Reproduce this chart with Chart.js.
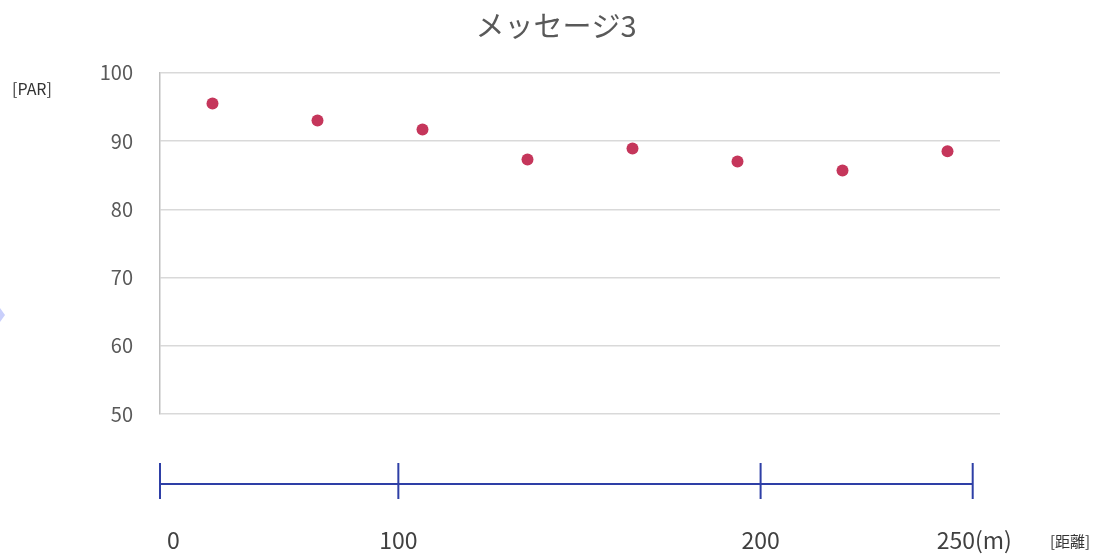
<!doctype html>
<html lang="ja">
<head>
  <meta charset="utf-8">
  <title>メッセージ3</title>
  <script src="https://cdn.jsdelivr.net/npm/chart.js@4.4.0/dist/chart.umd.min.js"></script>
  <style>
    html, body { margin: 0; padding: 0; background: #fff; }
    #wrap { width: 1112px; height: 554px; }
  </style>
</head>
<body>
  <div id="wrap"><canvas id="myChart"></canvas></div>
  <script>
    // measurement points (one per position along the course)
    const points = ['1', '2', '3', '4', '5', '6', '7', '8'];
    const parValues = [95.5, 93.0, 91.7, 87.3, 88.9, 87.0, 85.7, 88.5];

    // distance ruler under the plot
    const rulerLabels = ['0', '100', '200', '250(m)'];
    const rulerAt = [-0.5, 1.77, 5.22, 7.24]; // position in point-index units

    const yTicks = [50, 60, 70, 80, 90, 100];

    const FONT = '"Noto Sans CJK JP", "Noto Sans", sans-serif';

    const rulerPlugin = {
      id: 'ruler',
      afterDraw(chart) {
        const ctx = chart.ctx;
        const xs = chart.scales.x;
        const area = chart.chartArea;
        const lineY = area.bottom + 70;
        const px = rulerAt.map(v => xs.getPixelForValue(v));

        ctx.save();
        ctx.strokeStyle = '#2E3FA6';
        ctx.lineWidth = 2;
        ctx.beginPath();
        ctx.moveTo(px[0], lineY);
        ctx.lineTo(px[px.length - 1], lineY);
        px.forEach(x => {
          ctx.moveTo(x, lineY - 21);
          ctx.lineTo(x, lineY + 15);
        });
        ctx.stroke();

        ctx.fillStyle = '#404040';
        ctx.font = '23px ' + FONT;
        ctx.textBaseline = 'middle';
        rulerLabels.forEach((t, i) => {
          let x = px[i];
          if (i === 0) { ctx.textAlign = 'left'; x += 7; }
          else if (i === rulerLabels.length - 1) { ctx.textAlign = 'left'; x -= 36; }
          else ctx.textAlign = 'center';
          ctx.fillText(t, x, area.bottom + 126);
        });

        // axis names
        ctx.fillStyle = '#333';
        ctx.font = '16px ' + FONT;
        ctx.textAlign = 'left';
        ctx.fillText('[PAR]', 12, area.top + 16);
        ctx.font = '15px ' + FONT;
        ctx.fillText('[距離]', 1050, area.bottom + 127);

        // small selection handle at the left edge
        ctx.fillStyle = '#c9cffb';
        ctx.beginPath();
        ctx.moveTo(-5, 315);
        ctx.lineTo(0, 308);
        ctx.lineTo(5, 315);
        ctx.lineTo(0, 322);
        ctx.closePath();
        ctx.fill();
        ctx.restore();
      }
    };

    const ctx = document.getElementById('myChart').getContext('2d');
    const chart = new Chart(ctx, {
      type: 'line',
      data: {
        labels: points,
        datasets: [{
          label: 'PAR',
          data: parValues,
          showLine: false,
          pointRadius: 6,
          pointHoverRadius: 6,
          pointBackgroundColor: '#C5365B',
          pointBorderColor: '#C5365B',
          pointBorderWidth: 0
        }]
      },
      options: {
        responsive: true,
        maintainAspectRatio: false,
        animation: false,
        layout: { padding: { left: 0, right: 0, top: 0, bottom: 140 } },
        plugins: {
          legend: { display: false },
          tooltip: { enabled: false },
          title: {
            display: true,
            text: 'メッセージ3',
            color: '#595959',
            font: { family: FONT, size: 29, weight: 'normal' },
            padding: { top: 9, bottom: 29 }
          }
        },
        scales: {
          x: {
            type: 'category',
            offset: true,
            display: false
          },
          y: {
            min: 50,
            max: 100,
            afterFit(scale) { scale.width = 160; },
            afterBuildTicks(scale) { scale.ticks = yTicks.map(v => ({ value: v })); },
            border: { display: true, color: '#bfbfbf', width: 1.5 },
            grid: { color: '#d9d9d9', lineWidth: 1.5, drawTicks: false },
            ticks: {
              color: '#595959',
              padding: 27,
              font: { family: FONT, size: 20 }
            }
          },
          // empty strip on the right, keeps the title centred on the page
          yRight: {
            position: 'right',
            min: 50,
            max: 100,
            afterFit(scale) { scale.width = 112; },
            border: { display: false },
            grid: { display: false },
            ticks: { display: false }
          }
        }
      },
      plugins: [rulerPlugin]
    });
  </script>
</body>
</html>
